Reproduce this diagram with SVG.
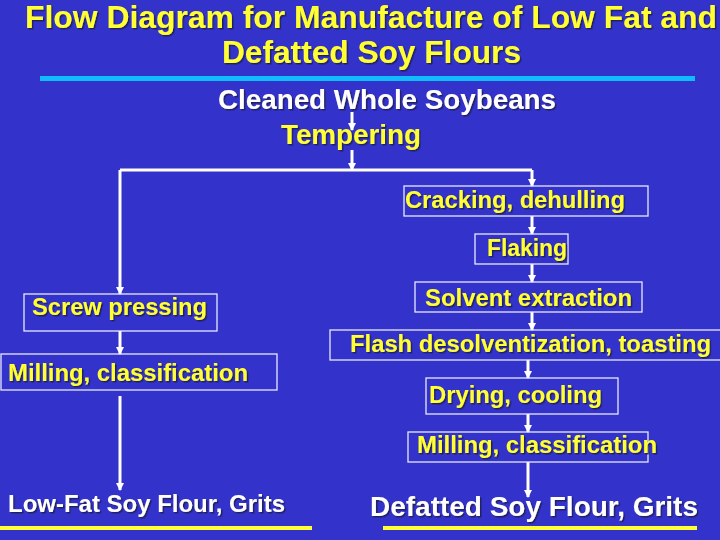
<svg xmlns="http://www.w3.org/2000/svg" width="720" height="540" viewBox="0 0 720 540">
<style>
text{font-family:"Liberation Sans",Arial,sans-serif;font-weight:bold}
.y{fill:#FFFF33;filter:url(#sh)}
.w{fill:#FFFFFF;filter:url(#sh)}
.box{fill:none;stroke:#E8E8FF;stroke-width:1.3}
.c{fill:none;stroke:#FFFFFF;stroke-width:3;marker-end:url(#ah)}
.cn{fill:none;stroke:#FFFFFF;stroke-width:3}
</style>
<defs>
<filter id="sh" x="-5%" y="-20%" width="110%" height="140%">
<feDropShadow dx="1.5" dy="1.5" stdDeviation="0.4" flood-color="#1a1a55" flood-opacity="0.9"/>
</filter>
<marker id="ah" markerUnits="userSpaceOnUse" markerWidth="9" markerHeight="8" refX="7" refY="4" orient="auto">
<path d="M0,0 L8,4 L0,8 Z" fill="#FFFFFF"/>
</marker>
</defs>
<rect x="0" y="0" width="720" height="540" fill="#3333CC"/>
<g id="title">
<text class="y" x="25" y="28" font-size="31" textLength="692" lengthAdjust="spacingAndGlyphs">Flow Diagram for Manufacture of Low Fat and</text>
<text class="y" x="222" y="63" font-size="31" textLength="299" lengthAdjust="spacingAndGlyphs">Defatted Soy Flours</text>
<rect x="40" y="76" width="655" height="5" fill="#11BBFF"/>
</g>
<g id="connectors">
<line class="c" x1="352" y1="112" x2="352" y2="130"/>
<line class="c" x1="352" y1="150" x2="352" y2="170"/>
<polyline class="cn" points="120,170 532,170"/>
<line class="c" x1="120" y1="170" x2="120" y2="294"/>
<line class="c" x1="532" y1="170" x2="532" y2="186"/>
<line class="c" x1="532" y1="216" x2="532" y2="234"/>
<line class="c" x1="532" y1="264" x2="532" y2="282"/>
<line class="c" x1="532" y1="312" x2="532" y2="330"/>
<line class="c" x1="528" y1="360" x2="528" y2="378"/>
<line class="c" x1="528" y1="414" x2="528" y2="432"/>
<line class="c" x1="528" y1="462" x2="528" y2="497"/>
<line class="c" x1="120" y1="331" x2="120" y2="354"/>
<line class="c" x1="120" y1="396" x2="120" y2="490"/>
</g>
<g id="cleaned"><text class="w" x="218" y="109" font-size="27" textLength="338" lengthAdjust="spacingAndGlyphs">Cleaned Whole Soybeans</text></g>
<g id="tempering"><text class="y" x="281" y="144" font-size="27" textLength="140" lengthAdjust="spacingAndGlyphs">Tempering</text></g>
<g id="cracking"><rect class="box" x="404" y="186" width="244" height="30"/><text class="y" x="405" y="208" font-size="23.5" textLength="220" lengthAdjust="spacingAndGlyphs">Cracking, dehulling</text></g>
<g id="flaking"><rect class="box" x="475" y="234" width="93" height="30"/><text class="y" x="487" y="256" font-size="23.5" textLength="80" lengthAdjust="spacingAndGlyphs">Flaking</text></g>
<g id="solvent"><rect class="box" x="415" y="282" width="227" height="30"/><text class="y" x="425" y="306" font-size="23.5" textLength="207" lengthAdjust="spacingAndGlyphs">Solvent extraction</text></g>
<g id="flash"><rect class="box" x="330" y="330" width="392" height="30"/><text class="y" x="350" y="352" font-size="23.5" textLength="361" lengthAdjust="spacingAndGlyphs">Flash desolventization, toasting</text></g>
<g id="drying"><rect class="box" x="426" y="378" width="192" height="36"/><text class="y" x="429" y="403" font-size="23.5" textLength="173" lengthAdjust="spacingAndGlyphs">Drying, cooling</text></g>
<g id="milling-right"><rect class="box" x="408" y="432" width="240" height="30"/><text class="y" x="417" y="453" font-size="23.5" textLength="240" lengthAdjust="spacingAndGlyphs">Milling, classification</text></g>
<g id="screw"><rect class="box" x="24" y="294" width="193" height="37"/><text class="y" x="32" y="315" font-size="23.5" textLength="175" lengthAdjust="spacingAndGlyphs">Screw pressing</text></g>
<g id="milling-left"><rect class="box" x="1" y="354" width="276" height="36"/><text class="y" x="8" y="381" font-size="23.5" textLength="240" lengthAdjust="spacingAndGlyphs">Milling, classification</text></g>
<g id="lowfat"><text class="w" x="8" y="512" font-size="24" textLength="277" lengthAdjust="spacingAndGlyphs">Low-Fat Soy Flour, Grits</text><rect x="0" y="526" width="312" height="4" fill="#FFFF33"/></g>
<g id="defatted"><text class="w" x="370" y="516" font-size="28" textLength="328" lengthAdjust="spacingAndGlyphs">Defatted Soy Flour, Grits</text><rect x="383" y="526" width="314" height="4" fill="#FFFF33"/></g>
</svg>
